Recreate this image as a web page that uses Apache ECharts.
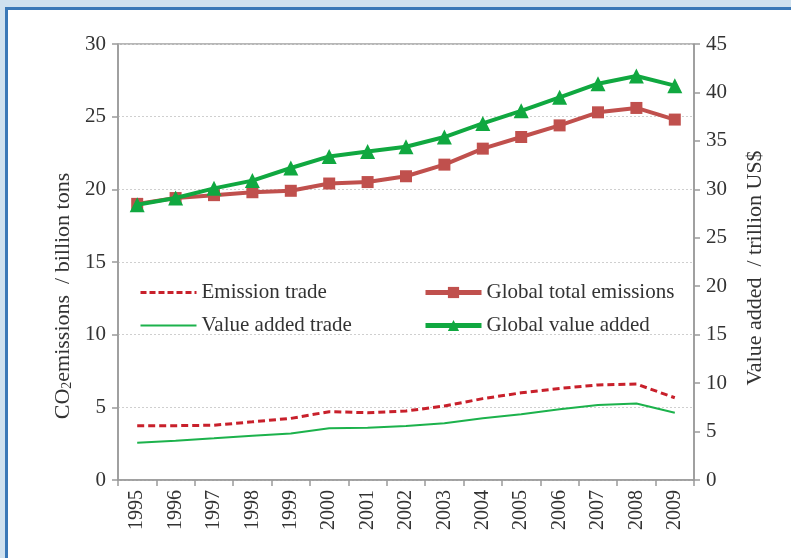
<!DOCTYPE html>
<html>
<head>
<meta charset="utf-8">
<script src="https://cdn.jsdelivr.net/npm/echarts@6/dist/echarts.min.js"></script>
<style>
  html, body { margin: 0; padding: 0; }
  body { width: 791px; height: 558px; background: #cfe1ef; position: relative; overflow: hidden; }
  .frame {
    position: absolute; left: 5px; top: 7px; width: 800px; height: 560px;
    background: #fff; border-left: 3px solid #3a78b7; border-top: 3px solid #3a78b7;
  }
  #chart { position: absolute; left: 0; top: 0; width: 791px; height: 558px; }
</style>
</head>
<body>
<div class="frame"></div>
<div id="chart"></div>
<script>
// 年份
const years = ['1995', '1996', '1997', '1998', '1999', '2000', '2001', '2002',
  '2003', '2004', '2005', '2006', '2007', '2008', '2009']

// 左轴 CO2 (billion tons)
const globalEmissions = [19.0, 19.4, 19.6, 19.8, 19.9, 20.4, 20.5, 20.9, 21.7, 22.8, 23.6, 24.4, 25.3, 25.6, 24.8]
const emissionTrade = [3.74, 3.74, 3.77, 4.0, 4.24, 4.7, 4.63, 4.75, 5.09, 5.6, 6.0, 6.3, 6.54, 6.6, 5.66]

// 右轴 value added (trillion US$)
const globalValueAdded = [28.4, 29.1, 30.1, 30.9, 32.2, 33.4, 33.9, 34.4, 35.4, 36.8, 38.1, 39.5, 40.9, 41.7, 40.7]
const valueAddedTrade = [3.85, 4.06, 4.3, 4.57, 4.8, 5.33, 5.4, 5.57, 5.85, 6.37, 6.78, 7.3, 7.74, 7.9, 6.95]

const font = 'Liberation Serif'
const axisGray = '#9a9a9a'

const chart = echarts.init(document.getElementById('chart'))

const options = {
  backgroundColor: 'transparent',
  textStyle: { fontFamily: font },
  animation: false,
  grid: {
    left: 118,
    right: 97,
    top: 44,
    bottom: 78,
    show: true,
    borderColor: '#6e6e6e',
    borderWidth: 1,
    backgroundColor: 'transparent'
  },
  legend: [
    {
      orient: 'vertical',
      left: 134,
      top: 277,
      itemWidth: 56,
      itemHeight: 14,
      itemGap: 12,
      textStyle: { fontFamily: font, fontSize: 21, color: '#333' },
      data: [
        // 虚线图例不画圆点
        { name: 'Emission trade', itemStyle: { opacity: 0 }, lineStyle: { width: 3, type: [6, 3] } },
        { name: 'Value added trade', itemStyle: { opacity: 0 }, lineStyle: { width: 2 } }
      ]
    },
    {
      orient: 'vertical',
      left: 418,
      top: 277,
      itemWidth: 56,
      itemHeight: 14,
      itemGap: 12,
      textStyle: { fontFamily: font, fontSize: 21, color: '#333' },
      lineStyle: { width: 5 },
      data: ['Global total emissions', 'Global value added']
    }
  ],
  xAxis: {
    type: 'category',
    data: years,
    boundaryGap: true,
    axisLine: { lineStyle: { color: axisGray, width: 1.5 } },
    axisTick: { show: true, length: 6, lineStyle: { color: axisGray, width: 1.5 } },
    axisLabel: {
      interval: 0,
      rotate: 90,
      margin: 10,
      fontFamily: font,
      fontSize: 20,
      color: '#333'
    },
    splitLine: { show: false }
  },
  yAxis: [
    {
      type: 'value',
      min: 0,
      max: 30,
      interval: 5,
      name: 'CO{sub|2}emissions  / billion tons',
      nameLocation: 'middle',
      nameRotate: 90,
      nameGap: 41,
      nameTextStyle: {
        fontFamily: font,
        fontSize: 22,
        color: '#333',
        padding: [0, 68, 0, 0],
        rich: {
          sub: { fontFamily: font, fontSize: 14, color: '#333', verticalAlign: 'bottom', padding: [8, 0, 0, 0] }
        }
      },
      axisLine: { show: true, lineStyle: { color: axisGray, width: 1.5 } },
      axisTick: { show: true, length: 6, lineStyle: { color: axisGray, width: 1.5 } },
      axisLabel: { margin: 12, fontFamily: font, fontSize: 21, color: '#333' },
      splitLine: { show: true, lineStyle: { color: '#cfcfcf', type: [2, 2], width: 1 } }
    },
    {
      type: 'value',
      min: 0,
      max: 45,
      interval: 5,
      position: 'right',
      name: 'Value added  / trillion US$',
      nameLocation: 'middle',
      nameRotate: 90,
      nameGap: 50,
      nameTextStyle: { fontFamily: font, fontSize: 22, color: '#333', padding: [0, 12, 0, 0] },
      axisLine: { show: true, lineStyle: { color: axisGray, width: 1.5 } },
      axisTick: { show: true, length: 6, lineStyle: { color: axisGray, width: 1.5 } },
      axisLabel: { margin: 12, fontFamily: font, fontSize: 21, color: '#333' },
      splitLine: { show: false }
    }
  ],
  series: [
    {
      name: 'Emission trade',
      type: 'line',
      yAxisIndex: 0,
      data: emissionTrade,
      symbol: 'none',
      lineStyle: { color: '#c8202b', width: 3, type: [7, 4] },
      itemStyle: { color: '#c8202b' },
      z: 3
    },
    {
      name: 'Value added trade',
      type: 'line',
      yAxisIndex: 1,
      data: valueAddedTrade,
      symbol: 'none',
      lineStyle: { color: '#1cb24c', width: 2 },
      itemStyle: { color: '#1cb24c' },
      z: 3
    },
    {
      name: 'Global total emissions',
      type: 'line',
      yAxisIndex: 0,
      data: globalEmissions,
      symbol: 'rect',
      symbolSize: 12,
      lineStyle: { color: '#c0504d', width: 4 },
      itemStyle: { color: '#c0504d' },
      z: 4
    },
    {
      name: 'Global value added',
      type: 'line',
      yAxisIndex: 1,
      data: globalValueAdded,
      symbol: 'triangle',
      symbolSize: 15,
      lineStyle: { color: '#10a840', width: 4 },
      itemStyle: { color: '#10a840' },
      z: 5
    }
  ]
}

chart.setOption(options)
</script>
</body>
</html>
